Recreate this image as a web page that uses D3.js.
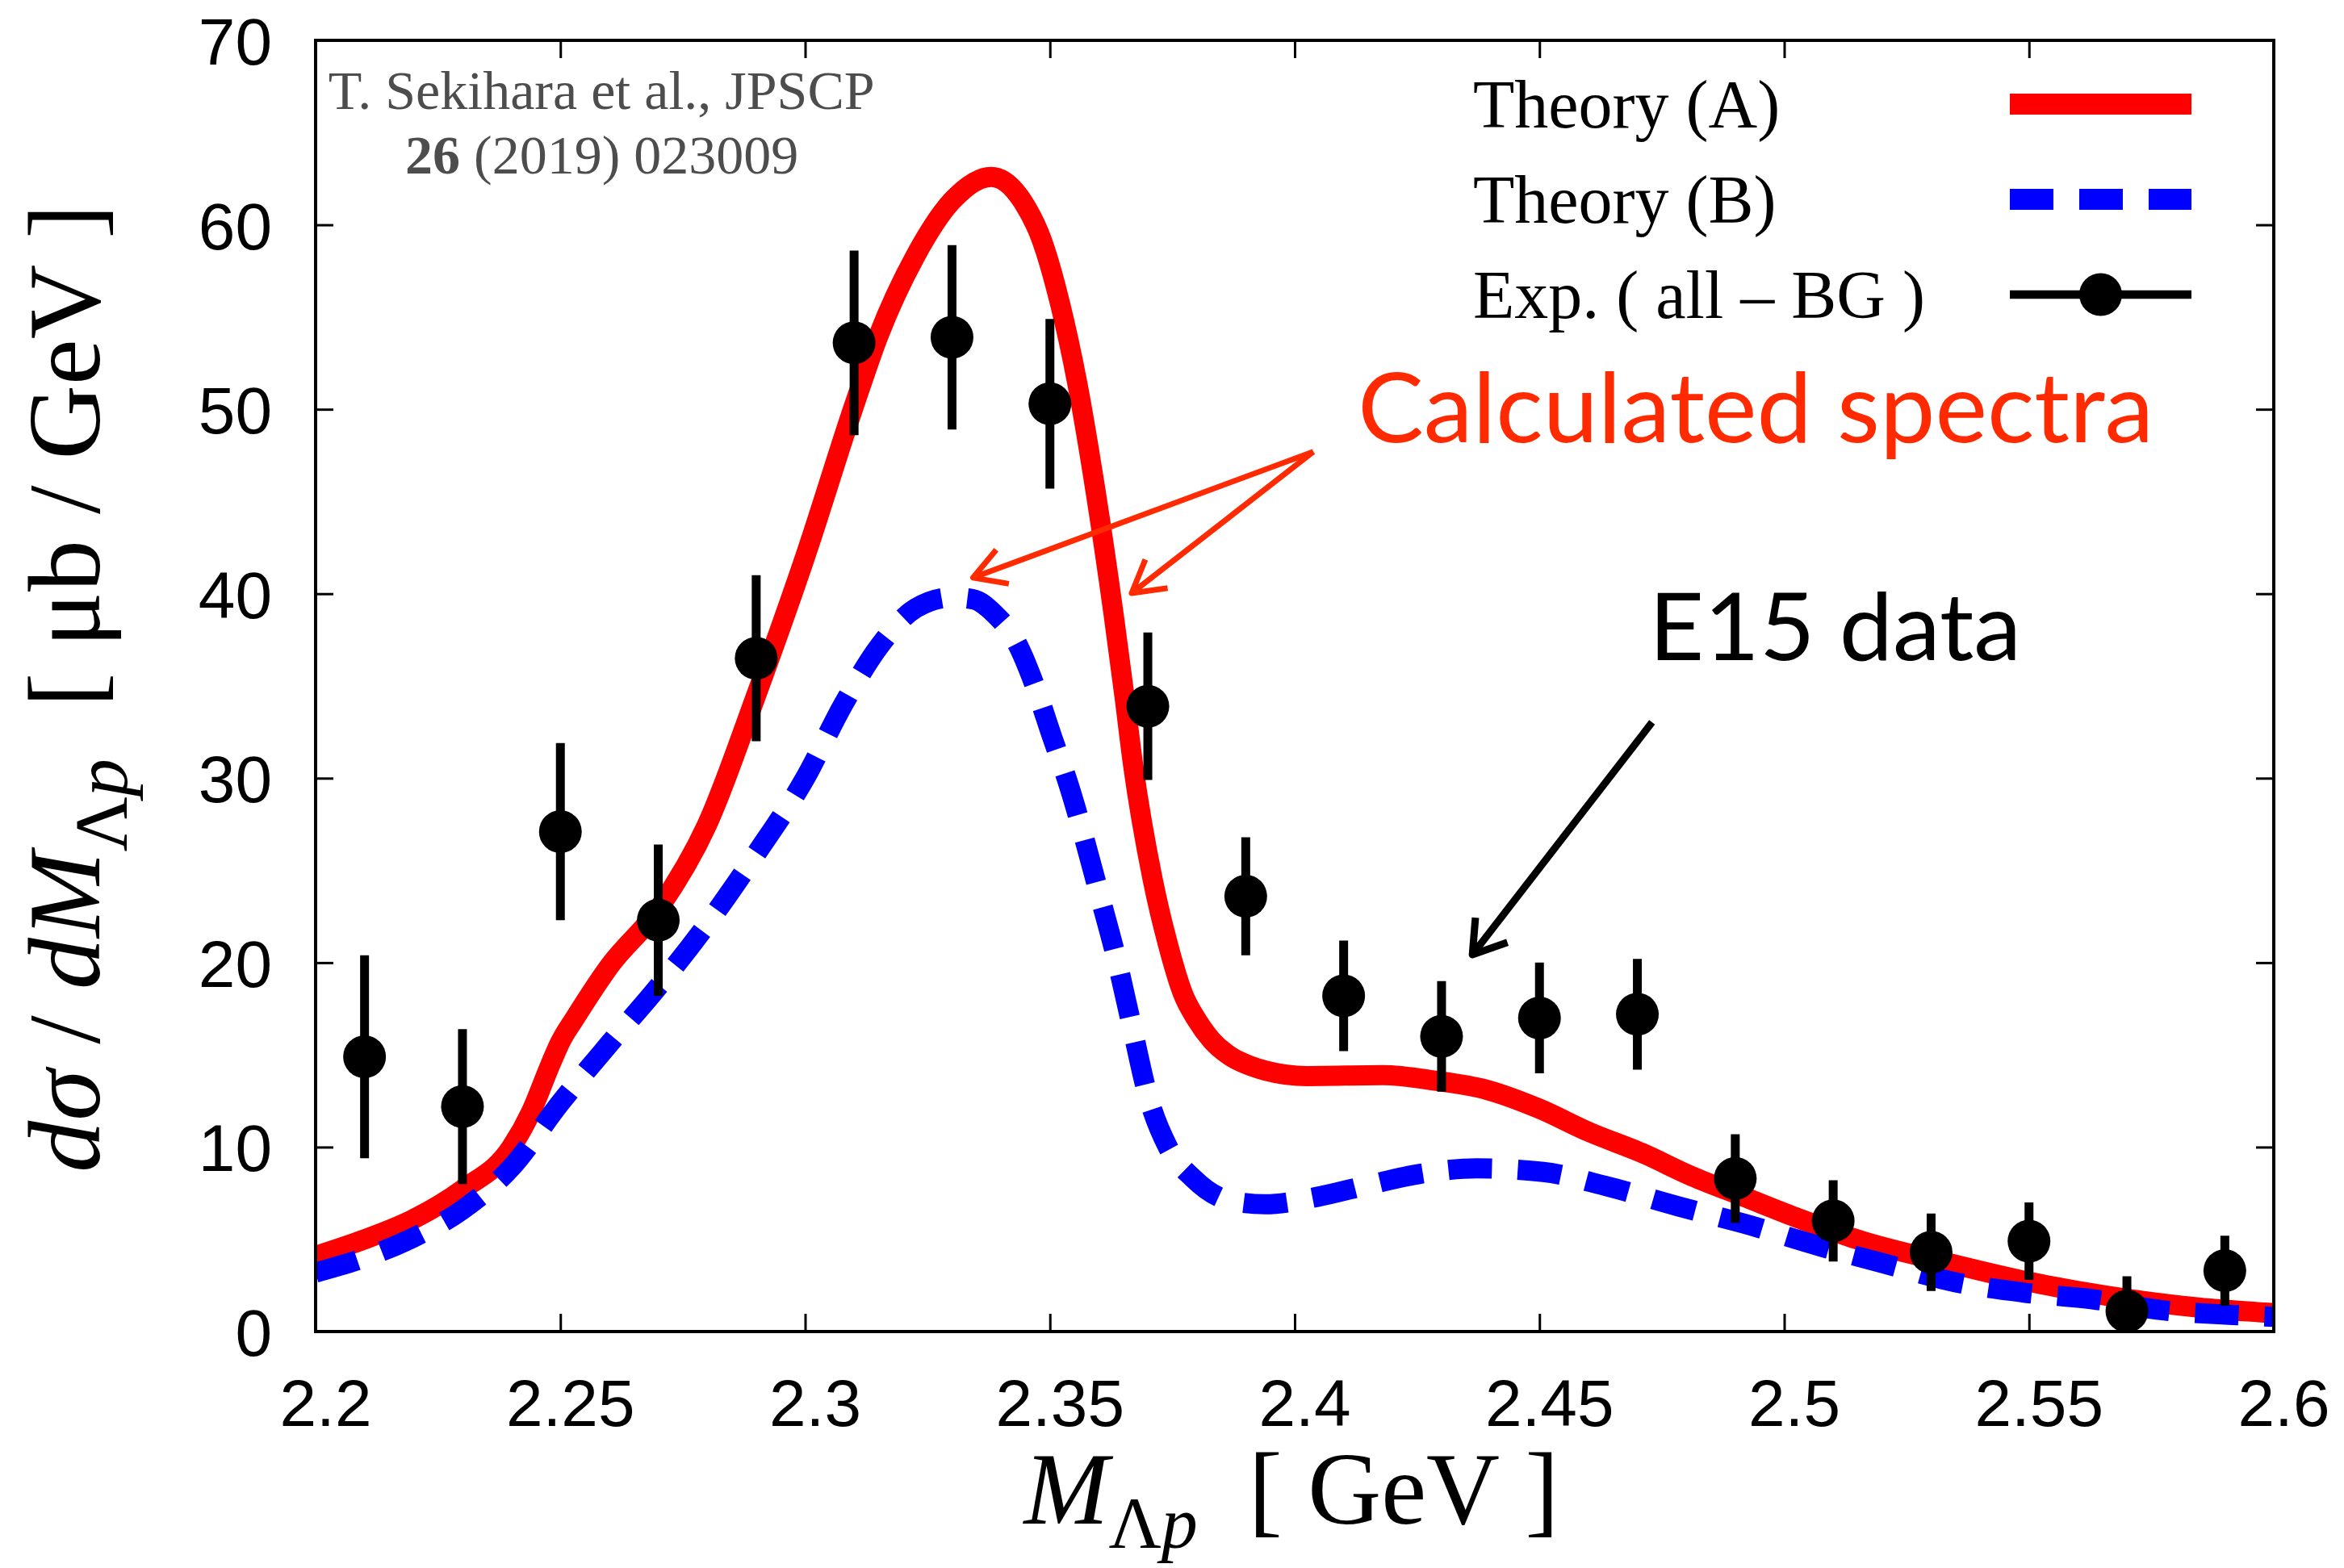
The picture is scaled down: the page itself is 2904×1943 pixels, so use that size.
<!DOCTYPE html>
<html>
<head>
<meta charset="utf-8">
<style>
body { margin: 0; background: #fff; }
svg text { font-family: "Liberation Serif", "Times New Roman", serif; }
.axis text { font-family: "Liberation Sans", Arial, sans-serif; font-size: 82px; fill: #000; }
.axis line { stroke: #000; stroke-width: 3px; }
.axis path { display: none; }
.note { font-family: Lato, "Open Sans", sans-serif; }
</style>
</head>
<body>
<div id="container"></div>
<script src="https://d3js.org/d3.v7.min.js"></script>
<script>

const width = 2904;
const height = 1943;
const margin = {left: 391, right: 87, top: 50, bottom: 293};

// E15 data (all - BG)
const expM   = [2.21, 2.23, 2.25, 2.27, 2.29, 2.31, 2.33, 2.35, 2.37, 2.39, 2.41, 2.43, 2.45, 2.47, 2.49, 2.51, 2.53, 2.55, 2.57, 2.59];
const expVal = [14.9, 12.2, 27.1, 22.3, 36.5, 53.6, 53.9, 50.3, 33.9, 23.6, 18.2, 16.0, 17.0, 17.2, 8.3, 6.0, 4.3, 4.9, 1.1, 3.3];
const expErr = [5.5, 4.2, 4.8, 4.1, 4.5, 5.0, 5.0, 4.6, 4.0, 3.2, 3.0, 3.0, 3.0, 3.0, 2.4, 2.2, 2.1, 2.1, 1.9, 1.9];

// Theory (A)
const theoryAM = [2.200, 2.210, 2.220, 2.230, 2.240, 2.244, 2.248, 2.250, 2.253, 2.260, 2.270, 2.280, 2.290, 2.300, 2.310, 2.315, 2.3225, 2.330, 2.338, 2.3446, 2.3483, 2.352, 2.3556, 2.3593, 2.363, 2.3652, 2.367, 2.371, 2.3741, 2.3772, 2.380, 2.383, 2.3867, 2.391, 2.394, 2.4025, 2.418, 2.4287, 2.4393, 2.4498, 2.4603, 2.4708, 2.4813, 2.4918, 2.5023, 2.5148, 2.5338, 2.550, 2.5656, 2.5846, 2.600];
const theoryAVal = [4.1, 5.0, 6.1, 7.7, 10.0, 11.9, 14.5, 15.7, 17.0, 19.8, 22.9, 27.5, 34.5, 42.0, 50.2, 54.0, 58.3, 61.3, 62.6, 61.2, 59.2, 55.8, 51.4, 45.6, 38.9, 34.5, 30.7, 24.5, 21.0, 18.3, 16.9, 15.8, 14.95, 14.4, 14.15, 13.85, 13.9, 13.6, 13.1, 12.1, 10.8, 9.7, 8.4, 7.3, 6.2, 5.0, 3.7, 2.7, 1.95, 1.3, 1.0];

// Theory (B)
const theoryBM = [2.200, 2.210, 2.220, 2.230, 2.240, 2.250, 2.260, 2.270, 2.280, 2.290, 2.300, 2.3078, 2.315, 2.3225, 2.330, 2.3343, 2.3387, 2.3431, 2.3468, 2.3505, 2.3534, 2.3604, 2.3636, 2.3667, 2.3699, 2.3741, 2.3793, 2.3867, 2.394, 2.4046, 2.4151, 2.4256, 2.4372, 2.4508, 2.4634, 2.4782, 2.4918, 2.5076, 2.5202, 2.535, 2.5487, 2.563, 2.5776, 2.5916, 2.600];
const theoryBVal = [3.2, 4.0, 5.1, 6.6, 8.9, 12.4, 15.6, 18.7, 22.1, 25.9, 30.0, 34.0, 37.1, 39.2, 39.8, 39.7, 38.9, 37.4, 35.1, 32.2, 30.0, 23.4, 20.2, 16.6, 12.9, 10.0, 8.3, 7.1, 6.9, 7.3, 7.95, 8.55, 8.85, 8.65, 7.9, 6.8, 5.85, 4.6, 3.7, 2.67, 2.12, 1.75, 1.14, 0.9, 0.8];

const xTicks = [2.2, 2.25, 2.3, 2.35, 2.4, 2.45, 2.5, 2.55, 2.6];
const xTickLabels = ['2.2', '2.25', '2.3', '2.35', '2.4', '2.45', '2.5', '2.55', '2.6'];
const yTicks = [0, 10, 20, 30, 40, 50, 60, 70];

const legendLabels = ['Theory (A)', 'Theory (B)', 'Exp. ( all \u2013 BG )'];

const svg = d3.select('#container').append('svg')
    .attr('width', width).attr('height', height)
    .style('background', '#fff');

const x = d3.scaleLinear().domain([2.2, 2.6]).range([margin.left, width - margin.right]);
const y = d3.scaleLinear().domain([0, 70]).range([height - margin.bottom, margin.top]);

svg.append('clipPath').attr('id', 'plotclip')
  .append('rect')
    .attr('x', x(2.2)).attr('y', y(70))
    .attr('width', x(2.6) - x(2.2)).attr('height', y(0) - y(70));

// axes, ticks pointing inward on all four sides
const tickLen = 22;
svg.append('g').attr('class', 'axis')
    .attr('transform', `translate(0,${y(0)})`)
    .call(d3.axisBottom(x).tickValues(xTicks).tickFormat((d, i) => xTickLabels[i])
        .tickSizeInner(-tickLen).tickSizeOuter(0).tickPadding(59))
    .selectAll('text').attr('dx', 12);
svg.append('g').attr('class', 'axis')
    .attr('transform', `translate(0,${y(70)})`)
    .call(d3.axisTop(x).tickValues(xTicks).tickFormat('').tickSizeInner(-tickLen).tickSizeOuter(0));
svg.append('g').attr('class', 'axis')
    .attr('transform', `translate(${x(2.2)},0)`)
    .call(d3.axisLeft(y).tickValues(yTicks).tickSizeInner(-tickLen).tickSizeOuter(0).tickPadding(54))
    .selectAll('text').attr('dy', '0.36em');
svg.append('g').attr('class', 'axis')
    .attr('transform', `translate(${x(2.6)},0)`)
    .call(d3.axisRight(y).tickValues(yTicks).tickFormat('').tickSizeInner(-tickLen).tickSizeOuter(0));

// curves
const line = d3.line().x(d => x(d[0])).y(d => y(d[1])).curve(d3.curveMonotoneX);
const plot = svg.append('g').attr('clip-path', 'url(#plotclip)');

plot.append('path')
    .datum(theoryAM.map((m, i) => [m, theoryAVal[i]]))
    .attr('d', line)
    .attr('fill', 'none').attr('stroke', '#ff0000')
    .attr('stroke-width', 25).attr('stroke-linejoin', 'round');

plot.append('path')
    .datum(theoryBM.map((m, i) => [m, theoryBVal[i]]))
    .attr('d', line)
    .attr('fill', 'none').attr('stroke', '#0000ff')
    .attr('stroke-width', 25).attr('stroke-dasharray', '54,32');

// data points with error bars
const pts = expM.map((m, i) => ({m: m, v: expVal[i], e: expErr[i]}));
plot.selectAll('.ebar').data(pts).enter().append('line')
    .attr('class', 'ebar')
    .attr('x1', d => x(d.m)).attr('x2', d => x(d.m))
    .attr('y1', d => y(d.v - d.e)).attr('y2', d => y(d.v + d.e))
    .attr('stroke', '#000').attr('stroke-width', 11);
svg.selectAll('.pt').data(pts).enter().append('circle')
    .attr('class', 'pt')
    .attr('cx', d => x(d.m)).attr('cy', d => y(d.v))
    .attr('r', 26.5).attr('fill', '#000');

// frame
svg.append('rect')
    .attr('x', x(2.2)).attr('y', y(70))
    .attr('width', x(2.6) - x(2.2)).attr('height', y(0) - y(70))
    .attr('fill', 'none').attr('stroke', '#000').attr('stroke-width', 4);

// legend
const legX = 1825, legLine = [2490, 2715], legY = [158, 276, 394];
legendLabels.forEach((t, i) => {
    svg.append('text').attr('x', legX).attr('y', legY[i])
        .style('font-size', '84px').text(t);
});
svg.append('line').attr('x1', legLine[0]).attr('x2', legLine[1])
    .attr('y1', legY[0] - 29).attr('y2', legY[0] - 29)
    .attr('stroke', '#ff0000').attr('stroke-width', 26);
svg.append('line').attr('x1', legLine[0]).attr('x2', legLine[1])
    .attr('y1', legY[1] - 29).attr('y2', legY[1] - 29)
    .attr('stroke', '#0000ff').attr('stroke-width', 26).attr('stroke-dasharray', '54,32');
svg.append('line').attr('x1', legLine[0]).attr('x2', legLine[1])
    .attr('y1', legY[2] - 29).attr('y2', legY[2] - 29)
    .attr('stroke', '#000').attr('stroke-width', 10.5);
svg.append('circle').attr('cx', (legLine[0] + legLine[1]) / 2).attr('cy', legY[2] - 29)
    .attr('r', 26.5).attr('fill', '#000');

// reference note
const ref = svg.append('g').attr('fill', '#4d4d4d').style('font-size', '68px');
ref.append('text').attr('x', x(2.2026)).attr('y', y(66.28)).text('T. Sekihara et al., JPSCP');
const ref2 = ref.append('text').attr('x', x(2.2183)).attr('y', y(62.78));
ref2.append('tspan').style('font-weight', 'bold').text('26');
ref2.append('tspan').text(' (2019) 023009');

// axis titles
const nb = '\u00a0';
const xt = svg.append('text')
    .attr('x', 1600).attr('y', 1888)
    .attr('text-anchor', 'middle').style('font-size', '126px');
xt.append('tspan').style('font-style', 'italic').text('M');
xt.append('tspan').attr('dy', 30).style('font-size', '90px').text('\u039b');
xt.append('tspan').style('font-size', '90px').style('font-style', 'italic').text('p');
xt.append('tspan').attr('dy', -30).text(nb + nb + '[' + nb + 'GeV' + nb + ']');

const yt = svg.append('text')
    .attr('transform', 'translate(123,853) rotate(-90)')
    .attr('text-anchor', 'middle').style('font-size', '128px');
yt.append('tspan').style('font-style', 'italic').text('d\u03c3');
yt.append('tspan').text(nb + '/' + nb);
yt.append('tspan').style('font-style', 'italic').text('dM');
yt.append('tspan').attr('dy', 34).style('font-size', '94px').text('\u039b');
yt.append('tspan').style('font-size', '94px').style('font-style', 'italic').text('p');
yt.append('tspan').attr('dy', -34).text(nb + nb + '[' + nb + '\u03bcb' + nb + '/' + nb + 'GeV' + nb + ']');

// annotations
function arrow(from, to, color, w, wing, ang) {
    const x0 = x(from[0]), y0 = y(from[1]), x1 = x(to[0]), y1 = y(to[1]);
    const a = Math.atan2(y0 - y1, x0 - x1);
    const r = ang * Math.PI / 180;
    const p1 = [x1 + wing * Math.cos(a - r), y1 + wing * Math.sin(a - r)];
    const p2 = [x1 + wing * Math.cos(a + r), y1 + wing * Math.sin(a + r)];
    svg.append('path')
        .attr('d', `M${x0},${y0}L${x1},${y1}M${p1[0]},${p1[1]}L${x1},${y1}L${p2[0]},${p2[1]}`)
        .attr('fill', 'none').attr('stroke', color).attr('stroke-width', w)
        .attr('stroke-linejoin', 'round').attr('stroke-linecap', 'butt');
}

svg.append('text').attr('class', 'note')
    .attr('x', x(2.4129)).attr('y', y(48.21))
    .attr('fill', '#ff2a00').style('font-size', '120px')
    .attr('textLength', 986).attr('lengthAdjust', 'spacingAndGlyphs')
    .text('Calculated spectra');
arrow([2.4038, 47.7], [2.3343, 40.87], '#ff2a00', 7, 45, 30);
arrow([2.4038, 47.7], [2.3667, 40.03], '#ff2a00', 7, 45, 30);

svg.append('text').attr('class', 'note')
    .attr('x', x(2.4724)).attr('y', y(36.4))
    .attr('fill', '#000').style('font-size', '116px')
    .attr('textLength', 461).attr('lengthAdjust', 'spacingAndGlyphs')
    .text('E15 data');
arrow([2.4730, 33.03], [2.4363, 20.43], '#000', 9, 46, 33);

</script>
</body>
</html>
